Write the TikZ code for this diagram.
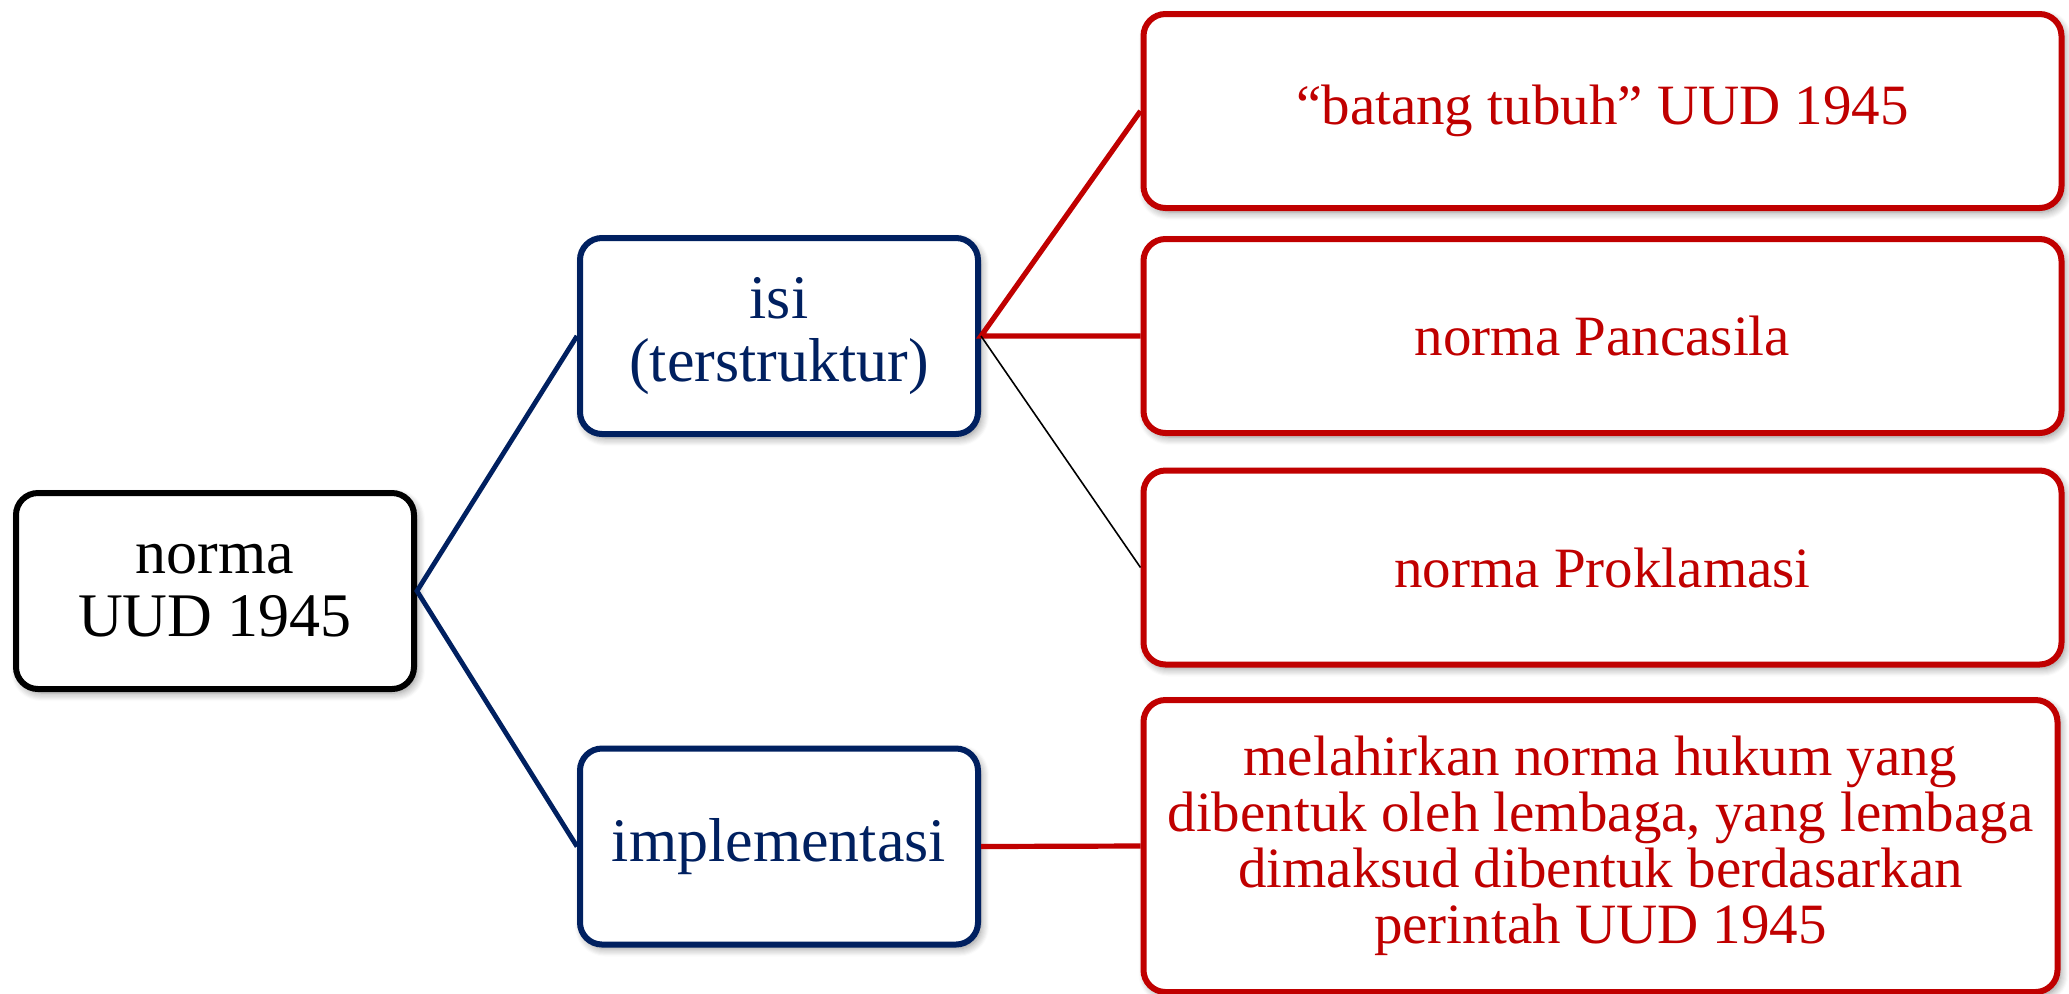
\documentclass[tikz,border=0pt]{standalone}
\usepackage{fontspec}
\setmainfont{Liberation Serif}
\usetikzlibrary{shadows.blur}
\definecolor{navy}{HTML}{002060}
\definecolor{dred}{HTML}{C00000}
\tikzset{
  box/.style={draw, line width=3pt, rounded corners=11pt, fill=white, inner sep=0pt, align=center,
    blur shadow={shadow xshift=1.5pt, shadow yshift=-2pt, shadow blur steps=8, shadow blur radius=4pt, shadow opacity=45}},
  lefttext/.style={font=\fontsize{31}{31.5}\selectfont},
  righttext/.style={font=\fontsize{28.5}{28}\selectfont},
  navyline/.style={draw=navy, line width=2.4pt},
  redline/.style={draw=dred, line width=2.6pt},
  thinline/.style={draw=black, line width=0.8pt}
}
\begin{document}
\begin{tikzpicture}[x=0.5pt, y=-0.5pt]
\useasboundingbox (0,0) rectangle (2069,993);
% nodes
\node[box, lefttext, draw=black, text=black, minimum width=199pt, minimum height=98pt] (root) at (215,591) {norma\\UUD 1945};
\node[box, lefttext, draw=navy, text=navy, minimum width=199pt, minimum height=98pt] (isi) at (779,336) {isi\\(terstruktur)};
\node[box, lefttext, draw=navy, text=navy, minimum width=199pt, minimum height=98pt] (impl) at (779,846.5) {implementasi};
\node[box, righttext, draw=dred, text=dred, minimum width=459pt, minimum height=97pt] (batang) at (1602.5,111) {“batang tubuh” UUD 1945};
\node[box, righttext, draw=dred, text=dred, minimum width=459pt, minimum height=97pt] (panc) at (1602.5,336) {norma Pancasila};
\node[box, righttext, draw=dred, text=dred, minimum width=459pt, minimum height=97pt] (prok) at (1602.5,567.5) {norma Proklamasi};
\node[box, righttext, draw=dred, text=dred, minimum width=457pt, minimum height=146pt] (impltext) at (1600.5,846) {melahirkan norma hukum yang\\dibentuk oleh lembaga, yang lembaga\\dimaksud dibentuk berdasarkan\\perintah UUD 1945};
% connectors
\draw[navyline] (isi.west) -- (root.east) -- (impl.west);
\draw[redline] (batang.west) -- (isi.east) -- (panc.west);
\draw[thinline] (isi.east) -- (prok.west);
\draw[redline] (impl.east) -- (impltext.west);
\end{tikzpicture}
\end{document}
